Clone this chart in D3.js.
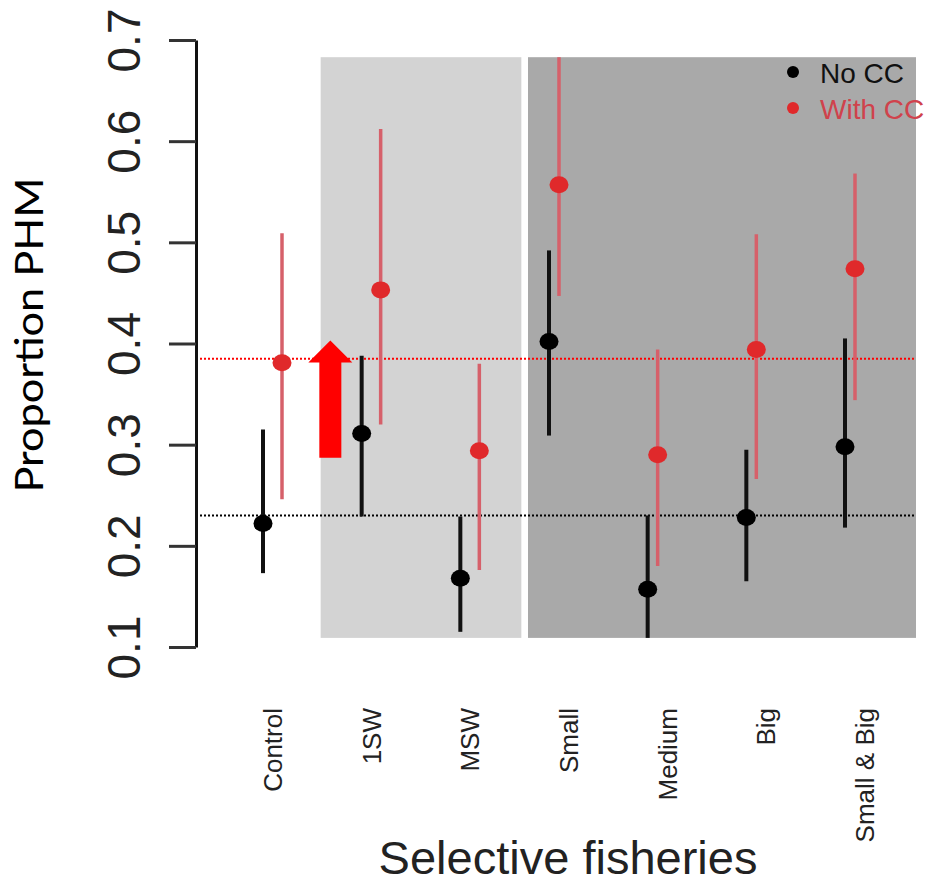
<!DOCTYPE html>
<html>
<head>
<meta charset="utf-8">
<script src="https://cdn.jsdelivr.net/npm/d3@7"></script>
<style>
  html, body { margin: 0; padding: 0; background: #fff; }
  svg { display: block; }
</style>
</head>
<body>
<svg id="chart" width="927" height="885"></svg>
<script>
// ---------------- data ----------------
const categories = ["Control", "1SW", "MSW", "Small", "Medium", "Big", "Small & Big"];
const groups     = ["control", "age", "age", "size", "size", "size", "size"];

const noCCMean  = [0.222, 0.311, 0.168, 0.402, 0.157, 0.228, 0.298];
const noCCLow   = [0.173, 0.229, 0.115, 0.309, 0.109, 0.165, 0.218];
const noCCHigh  = [0.315, 0.388, 0.229, 0.492, 0.230, 0.295, 0.405];

const withCCMean = [0.381, 0.453, 0.294, 0.557, 0.290, 0.394, 0.474];
const withCCLow  = [0.246, 0.320, 0.176, 0.447, 0.180, 0.266, 0.344];
const withCCHigh = [0.509, 0.612, 0.380, 0.683, 0.394, 0.508, 0.568];

const yTicks = [0.1, 0.2, 0.3, 0.4, 0.5, 0.6, 0.7];
const refNoCC = 0.23;     // black dotted reference
const refWithCC = 0.385;  // red dotted reference
const arrowFrom = 0.287, arrowTo = 0.403;

const seriesNames = ["No CC", "With CC"];
const seriesColors = { point: ["#000000", "#e0292b"], bar: ["#111111", "#d6606a"], text: ["#111111", "#d0424c"] };

// ---------------- layout ----------------
const svg = d3.select("#chart");
const axisX = 196;
const y = d3.scaleLinear().domain([0.1, 0.7]).range([647, 40]);
const x = d3.scalePoint().domain(categories).range([273, 865]);
const seriesOffset = { control: [-10, 9], age: [-10, 9], size: [-20, -10] };
const panelBottom = 0.109, panelTop = 0.683;
const panels = [
  { group: "age",  fill: "#d3d3d3", padL: 51, padR: 51 },
  { group: "size", fill: "#a9a9a9", padL: 41, padR: 51 }
];

// panels
panels.forEach(p => {
  const cats = categories.filter((c, i) => groups[i] === p.group);
  const x0 = x(cats[0]) - p.padL, x1 = x(cats[cats.length - 1]) + p.padR;
  svg.append("rect")
    .attr("x", x0).attr("y", y(panelTop))
    .attr("width", x1 - x0).attr("height", y(panelBottom) - y(panelTop))
    .attr("fill", p.fill);
});

const plotRight = x(categories[categories.length - 1]) + 51;

// reference dotted lines
[[refWithCC, "#ff0000"], [refNoCC, "#000000"]].forEach(([v, c]) => {
  svg.append("line")
    .attr("x1", axisX).attr("x2", plotRight)
    .attr("y1", y(v)).attr("y2", y(v))
    .attr("stroke", c).attr("stroke-width", 2)
    .attr("stroke-dasharray", "2,2");
});

// red arrow annotation
{
  const ax = (x(categories[0]) + x(categories[1])) / 2 + 8;
  const tipY = y(arrowTo), baseY = y(arrowFrom), headLen = 22, headHalf = 22, shaftHalf = 11;
  const pts = [
    [ax, tipY], [ax + headHalf, tipY + headLen], [ax + shaftHalf, tipY + headLen],
    [ax + shaftHalf, baseY], [ax - shaftHalf, baseY], [ax - shaftHalf, tipY + headLen],
    [ax - headHalf, tipY + headLen]
  ];
  svg.append("polygon").attr("points", pts.map(p => p.join(",")).join(" ")).attr("fill", "#ff0000");
}

// series
const series = [
  { mean: noCCMean, low: noCCLow, high: noCCHigh },
  { mean: withCCMean, low: withCCLow, high: withCCHigh }
];
[1, 0].forEach(si => {
  const s = series[si];
  const g = svg.append("g");
  categories.forEach((c, i) => {
    const cx = x(c) + seriesOffset[groups[i]][si];
    g.append("line")
      .attr("x1", cx).attr("x2", cx)
      .attr("y1", y(s.low[i])).attr("y2", y(s.high[i]))
      .attr("stroke", seriesColors.bar[si]).attr("stroke-width", si === 0 ? 4 : 3.5);
    g.append("ellipse")
      .attr("cx", cx).attr("cy", y(s.mean[i]))
      .attr("rx", 9.5).attr("ry", 8.5)
      .attr("fill", seriesColors.point[si]);
  });
});

// y axis
const yAxis = d3.axisLeft(y).tickValues(yTicks).tickSize(27).tickSizeOuter(0).tickFormat(d3.format(".1f"));
const ag = svg.append("g").attr("transform", `translate(${axisX},0)`).call(yAxis);
ag.select(".domain").attr("stroke", "#111").attr("stroke-width", 3);
ag.selectAll(".tick line").attr("stroke", "#333").attr("stroke-width", 3);
ag.selectAll(".tick text")
  .attr("transform", "rotate(-90)")
  .attr("x", 0).attr("y", -56).attr("dy", 0)
  .attr("text-anchor", "middle")
  .attr("fill", "#222")
  .style("font-family", "'Liberation Sans', Arial, sans-serif")
  .style("font-size", "46px");

// y title
svg.append("text")
  .attr("transform", `translate(43,335) rotate(-90)`)
  .attr("text-anchor", "middle")
  .attr("textLength", 315).attr("lengthAdjust", "spacingAndGlyphs")
  .style("font-family", "Lato, 'Open Sans', sans-serif")
  .style("font-size", "38px")
  .attr("fill", "#000")
  .text("Proportion PHM");

// x category labels
categories.forEach(c => {
  svg.append("text")
    .attr("transform", `translate(${x(c) + 9},708) rotate(-90)`)
    .attr("text-anchor", "end")
    .style("font-family", "'Liberation Sans', Arial, sans-serif")
    .style("font-size", "26px")
    .attr("fill", "#222")
    .text(c);
});

// x title
svg.append("text")
  .attr("x", 568).attr("y", 874)
  .attr("text-anchor", "middle")
  .style("font-family", "'Liberation Sans', Arial, sans-serif")
  .style("font-size", "47px")
  .attr("fill", "#222")
  .text("Selective fisheries");

// legend
seriesNames.forEach((n, i) => {
  const ly = 72 + i * 36;
  svg.append("circle").attr("cx", 793).attr("cy", ly).attr("r", 6).attr("fill", seriesColors.point[i]);
  svg.append("text")
    .attr("x", 820).attr("y", ly + 11)
    .style("font-family", "'Liberation Sans', Arial, sans-serif")
    .style("font-size", "28px")
    .attr("fill", seriesColors.text[i])
    .text(n);
});
</script>
</body>
</html>
